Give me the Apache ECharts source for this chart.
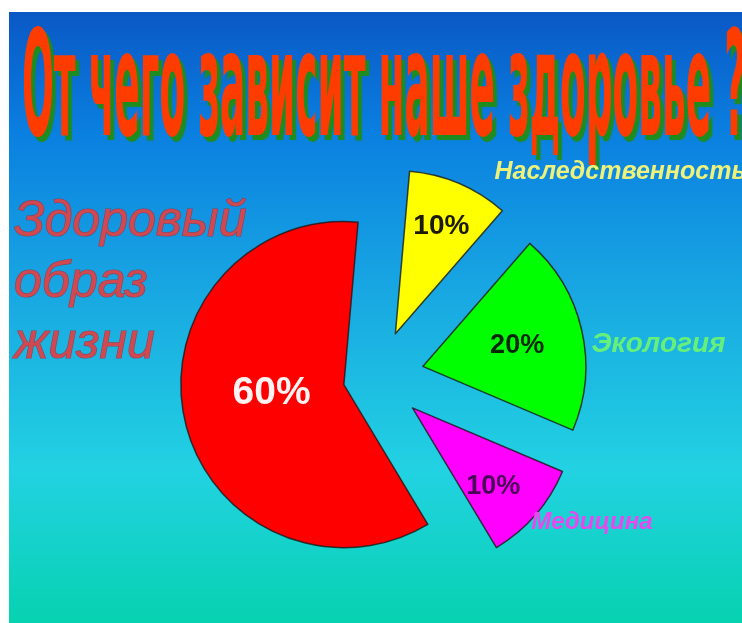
<!DOCTYPE html>
<html><head><meta charset="utf-8">
<script src="https://cdn.jsdelivr.net/npm/echarts@6/dist/echarts.min.js"></script>
<style>
html,body{margin:0;padding:0;background:#fff;overflow:hidden;width:742px;height:623px}
#c{position:absolute;left:9px;top:12px;width:733px;height:611px}
</style>
</head><body><div id="c"></div>
<script>
// ---- data ----
const TITLE = 'От чего зависит наше здоровье ?';
const categories = ['Наследственность', 'Экология', 'Медицина', 'Здоровый образ жизни'];
const values = [10, 20, 10, 60];

// ---- styles ----
const sliceColors = ['#ffff00', '#00ff00', '#ff00ff', '#ff0000'];
const pctColors = ['#1a1a00', '#002800', '#4a0058', '#fff2f2'];
const pctSizes = [28, 27, 27, 39];
const pctShift = [[13, -30], [12, -2], [17, 23], [10, -10]];
const nameColors = ['#eef27a', '#66f07a', '#e848ee', '#d04850'];
const nameSizes = [25, 28, 24, 50];
const nameWeights = ['bold', 'bold', 'bold', 'normal'];
const nameWrap = [false, false, false, true];
const nameShift = [[28, -41], [21, 7], [0, 29], [0, -134]];
const bigSlice = 3;

const CENTER = [368, 365];
const RADIUS = 163;
const START = 85;

const chart = echarts.init(document.getElementById('c'));

const titleFont = 'bold 60px "DejaVu Sans"';
const mctx = document.createElement('canvas').getContext('2d');
mctx.font = titleFont;
const titleW = mctx.measureText(TITLE).width;
const titleSX = 724 / titleW;
const titleSY = 2.43;

function pctSeries(showIdx, offset) {
  return {
    type: 'pie', center: CENTER, radius: RADIUS, startAngle: START, clockwise: true,
    selectedMode: 'multiple', selectedOffset: offset, avoidLabelOverlap: false,
    animation: false, silent: true, emphasis: { disabled: true },
    itemStyle: { borderColor: 'rgba(25,25,25,0.8)', borderWidth: 1.5 },
    label: { show: true, position: 'inside', formatter: '{d}%', fontFamily: '"Liberation Sans", Arial, sans-serif', fontWeight: 'bold' },
    labelLine: { show: false },
    labelLayout: p => ({ dx: pctShift[p.dataIndex][0], dy: pctShift[p.dataIndex][1] }),
    data: values.map((v, i) => {
      const on = showIdx(i);
      return {
        name: categories[i], value: v, selected: on,
        itemStyle: on ? { color: sliceColors[i] } : { color: 'rgba(0,0,0,0)', borderWidth: 0 },
        select: { itemStyle: on ? { color: sliceColors[i], borderColor: 'rgba(25,25,25,0.8)', borderWidth: 1.5 } : { color: 'rgba(0,0,0,0)', borderWidth: 0 } },
        label: on ? { color: pctColors[i], fontSize: pctSizes[i] } : { show: false }
      };
    })
  };
}

const option = {
  backgroundColor: {
    type: 'linear', x: 0, y: 0, x2: 0, y2: 1,
    colorStops: [
      { offset: 0, color: '#0a58c6' },
      { offset: 0.2, color: '#0a80e0' },
      { offset: 0.45, color: '#18a6e2' },
      { offset: 0.75, color: '#22d2e2' },
      { offset: 1, color: '#06d2b0' }
    ]
  },
  graphic: [{
    type: 'text', x: 13, y: 85, scaleX: titleSX, scaleY: titleSY, silent: true,
    style: {
      text: TITLE, font: titleFont, fill: '#ff3c00', textVerticalAlign: 'middle',
      textShadowColor: '#1e8c1e', textShadowBlur: 1, textShadowOffsetX: 4, textShadowOffsetY: 5
    }
  }],
  series: [
    {
      type: 'pie', center: CENTER, radius: RADIUS, startAngle: START, clockwise: true,
      avoidLabelOverlap: false, animation: false, silent: true, emphasis: { disabled: true },
      itemStyle: { color: 'rgba(0,0,0,0)', borderWidth: 0 },
      label: {
        show: true, position: 'outside', fontFamily: '"Liberation Sans", Arial, sans-serif',
        fontStyle: 'italic', width: 300, overflow: 'none',
        formatter: p => nameWrap[p.dataIndex] ? p.name.split(' ').join('\n') : p.name
      },
      labelLine: { show: false, length: 15, length2: 15 },
      labelLayout: p => ({ dx: nameShift[p.dataIndex][0], dy: nameShift[p.dataIndex][1] }),
      data: values.map((v, i) => ({
        name: categories[i], value: v,
        label: Object.assign({
          color: nameColors[i], fontSize: nameSizes[i], fontWeight: nameWeights[i]
        }, i === bigSlice ? { alignTo: 'edge', edgeDistance: 5, lineHeight: 61, textBorderColor: 'rgba(160,45,60,0.8)', textBorderWidth: 1.2 } : {})
      }))
    },
    pctSeries(i => i !== bigSlice, 47),
    pctSeries(i => i === bigSlice, 34)
  ]
};
chart.setOption(option);
</script>
</body></html>
